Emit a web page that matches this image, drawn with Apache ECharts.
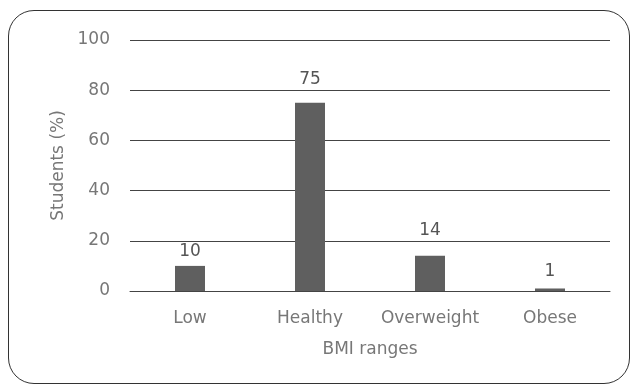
<!DOCTYPE html>
<html>
<head>
<meta charset="utf-8">
<script src="https://cdn.jsdelivr.net/npm/echarts@6/dist/echarts.min.js"></script>
<style>
  html, body { margin: 0; padding: 0; background: #fff; }
  #frame {
    position: absolute; left: 8px; top: 10px; width: 622px; height: 374px;
    border: 1.3px solid #333; border-radius: 26px; box-sizing: border-box;
  }
  #chart { position: absolute; left: 0; top: 0; width: 639px; height: 392px; }
</style>
</head>
<body>
<div id="frame"></div>
<div id="chart"></div>
<script>
const categories = ["Low", "Healthy", "Overweight", "Obese"]
const students = [10, 75, 14, 1]
// value labels sit at slightly different heights in the original (kept clear of grid lines)
const labelGaps = [6, 15, 17, 8]

const chart = echarts.init(document.getElementById("chart"))
const font = "'DejaVu Sans', sans-serif"

const options = {
    animation: false,
    grid: { left: 130, right: 29, top: 40, bottom: 101 },
    xAxis: {
        type: "category",
        data: categories,
        name: "BMI ranges",
        nameLocation: "middle",
        nameGap: 50,
        nameTextStyle: { color: "#777", fontSize: 17, fontFamily: font },
        axisLine: { lineStyle: { color: "#444", width: 1 } },
        axisTick: { show: false },
        axisLabel: { color: "#777", fontSize: 17, fontFamily: font, margin: 19, interval: 0 },
    },
    yAxis: {
        type: "value",
        min: 0,
        max: 100,
        interval: 20,
        name: "Students (%)",
        nameLocation: "middle",
        nameGap: 58,
        nameTextStyle: { color: "#777", fontSize: 17, fontFamily: font },
        axisLine: { show: false },
        axisTick: { show: false },
        axisLabel: { color: "#777", fontSize: 17, fontFamily: font, margin: 20 },
        splitLine: { lineStyle: { color: "#444", width: 1 } },
    },
    series: [{
        type: "bar",
        data: students.map((v, i) => ({ value: v, label: { distance: labelGaps[i] } })),
        barWidth: 30,
        itemStyle: { color: "#5f5f5f" },
        label: {
            show: true,
            position: "top",
            color: "#555",
            fontSize: 17,
            fontFamily: font,
        },
    }],
}
chart.setOption(options)
</script>
</body>
</html>
